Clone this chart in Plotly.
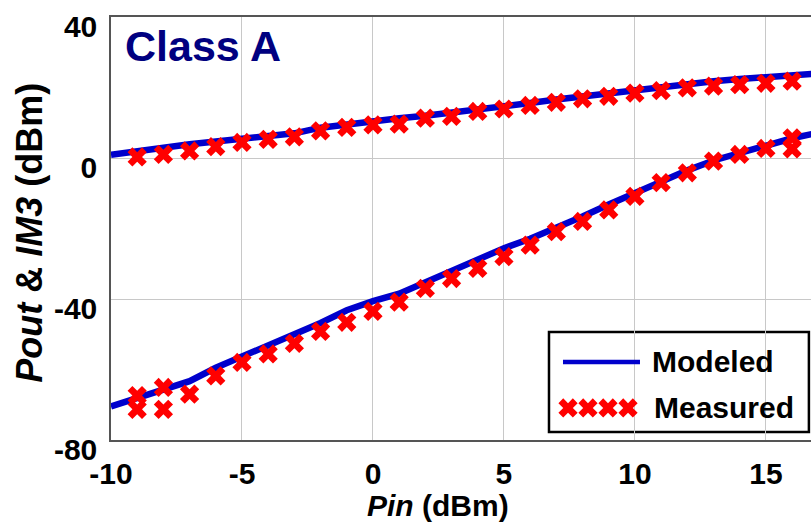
import plotly.graph_objects as go

# ---------------- data ----------------
pin_model = [-10, -9, -8, -7, -6, -5, -4, -3, -2, -1, 0, 1, 2, 3, 4, 5, 6, 7, 8, 9, 10, 11, 12, 13, 14, 15, 16, 17]
pout_model = [0.9, 2.0, 3.0, 3.9, 4.7, 5.4, 6.2, 7.0, 8.6, 9.6, 10.4, 11.3, 12.0, 12.8, 13.8, 14.7, 15.6, 16.6,
              17.5, 18.4, 19.3, 20.2, 21.0, 21.8, 22.4, 23.0, 23.5, 24.0]
im3_model = [-70.5, -68.0, -65.7, -63.3, -59.5, -56.3, -53.5, -50.3, -46.8, -43.2, -40.6, -38.5, -35.3, -31.8,
             -29.0, -25.6, -22.9, -19.9, -16.6, -13.2, -9.9, -6.4, -3.5, -0.7, 1.5, 3.7, 5.6, 7.2]

pin_meas_pout = [-9, -8, -7, -6, -5, -4, -3, -2, -1, 0, 1, 2, 3, 4, 5, 6, 7, 8, 9, 10, 11, 12, 13, 14, 15, 16]
pout_meas = [0.3, 1.0, 2.0, 3.2, 4.4, 5.3, 6.0, 7.7, 8.7, 9.4, 9.6, 11.3, 11.8, 13.2, 13.9, 14.9, 15.8, 16.8,
             17.5, 18.4, 19.1, 19.9, 20.4, 20.8, 21.2, 21.8]

pin_meas_im3 = [-9, -9, -8, -8, -7, -6, -5, -4, -3, -2, -1, 0, 1, 2, 3, 4, 5, 6, 7, 8, 9, 10, 11, 12, 13, 14, 15, 16, 16]
im3_meas = [-67.4, -71.3, -65.1, -71.3, -67.0, -61.8, -58.0, -55.6, -52.6, -49.2, -46.6, -43.5, -40.9, -37.0,
            -34.2, -31.3, -28.0, -24.7, -20.9, -18.0, -14.7, -10.9, -7.0, -4.2, -0.9, 1.0, 2.7, 5.7, 2.6]

x_tickvals = [-10, -5, 0, 5, 10, 15]
x_ticktext = ["-10", "-5", "0", "5", "10", "15"]
y_tickvals = [-80, -40, 0, 40]
y_ticktext = ["-80", "-40", "0", "40"]

legend_labels = ["Modeled", "Measured"]

# ---------------- style ----------------
BLUE = "#0000CC"
RED = "#FF0000"
NAVY = "#000080"
FONT = "Liberation Sans, Arial, sans-serif"
MSIZE = 17

fig = go.Figure()

for yv in (pout_model, im3_model):
    fig.add_trace(go.Scatter(x=pin_model, y=yv, mode="lines",
                             line=dict(color=BLUE, width=6.5), showlegend=False,
                             hoverinfo="skip"))

for xv, yv in ((pin_meas_pout, pout_meas), (pin_meas_im3, im3_meas)):
    fig.add_trace(go.Scatter(x=xv, y=yv, mode="markers",
                             marker=dict(symbol="x", size=MSIZE, color=RED, line=dict(width=0)),
                             showlegend=False, hoverinfo="skip", cliponaxis=False))

# ---------- hand-drawn legend (overlay axes in plot-area fractions) ----------
LEG_BOX = (0.6257, 0.0189, 0.997, 0.2553)
LEG_LINE = (0.6457, 0.7557, 0.1844)
LEG_X = [0.6529, 0.6814, 0.71, 0.7386]
LEG_XY = 0.0757
LEG_TEXT_X = [0.77, 0.7729]
LEG_TEXT_Y = [0.1844, 0.078]

fig.add_trace(go.Scatter(x=[LEG_LINE[0], LEG_LINE[1]], y=[LEG_LINE[2]] * 2, mode="lines",
                         line=dict(color=BLUE, width=4.5), xaxis="x2", yaxis="y2",
                         showlegend=False, hoverinfo="skip"))
fig.add_trace(go.Scatter(x=LEG_X, y=[LEG_XY] * len(LEG_X), mode="markers",
                         marker=dict(symbol="x", size=MSIZE, color=RED, line=dict(width=0)),
                         xaxis="x2", yaxis="y2", showlegend=False, hoverinfo="skip"))

fig.add_shape(type="rect", xref="paper", yref="paper",
              x0=LEG_BOX[0], y0=LEG_BOX[1], x1=LEG_BOX[2], y1=LEG_BOX[3],
              line=dict(color="black", width=2.5), fillcolor="white", layer="below")

for lbl, lx, ly in zip(legend_labels, LEG_TEXT_X, LEG_TEXT_Y):
    fig.add_annotation(text="<b>%s</b>" % lbl, xref="paper", yref="paper", x=lx, y=ly,
                       xanchor="left", yanchor="middle", showarrow=False,
                       font=dict(family=FONT, size=30, color="black"))

# Class A label
fig.add_annotation(text="<b>Class A</b>", xref="paper", yref="paper", x=0.0171, y=0.931,
                   xanchor="left", yanchor="middle", showarrow=False,
                   font=dict(family=FONT, size=43, color=NAVY))

# axis titles
fig.add_annotation(text="<b><i>Pout</i> &amp; <i>IM3</i> (dBm)</b>", xref="paper", yref="paper",
                   x=-0.1157, y=0.49, textangle=-90, xanchor="center", yanchor="middle",
                   showarrow=False, font=dict(family=FONT, size=36, color="black"))
fig.add_annotation(text="<b><i>Pin</i> (dBm)</b>", xref="paper", yref="paper",
                   x=0.467, y=-0.1560, xanchor="center", yanchor="middle", borderpad=0,
                   showarrow=False, font=dict(family=FONT, size=30, color="black"))

tickfont = dict(family=FONT, size=30, color="black", weight="bold")

fig.update_layout(
    width=811, height=525,
    margin=dict(l=111, r=0, t=17, b=85),
    paper_bgcolor="white", plot_bgcolor="white",
    showlegend=False,
    xaxis=dict(range=[-10, 16.72], tickvals=x_tickvals, ticktext=x_ticktext,
               tickfont=tickfont, showgrid=True, gridcolor="#c8c8c8", gridwidth=1,
               showline=True, linecolor="#555555", linewidth=1.5, mirror=True,
               zeroline=False, ticks="", ticklabelstandoff=6),
    yaxis=dict(range=[-80, 40], tickvals=y_tickvals, ticktext=y_ticktext,
               tickfont=tickfont, showgrid=True, gridcolor="#c8c8c8", gridwidth=1,
               showline=True, linecolor="#555555", linewidth=1.5, mirror=False,
               zeroline=False, ticks="", ticklabelshift=9, ticklabelstandoff=6),
    xaxis2=dict(overlaying="x", range=[0, 1], visible=False, fixedrange=True),
    yaxis2=dict(overlaying="y", range=[0, 1], visible=False, fixedrange=True),
)

fig.write_html("out.html")
